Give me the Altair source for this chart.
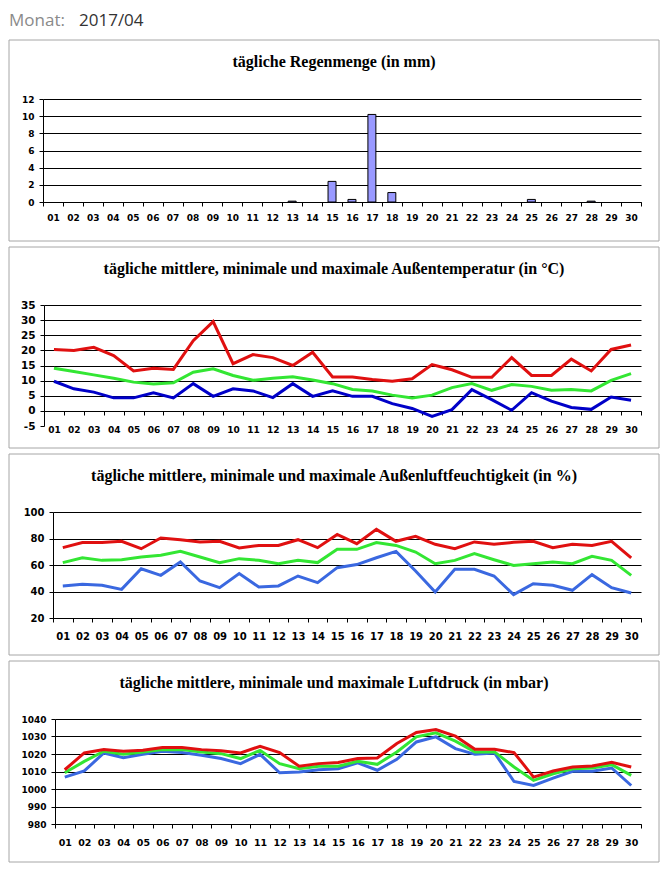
import altair as alt
import pandas as pd

# ---------------- data ----------------
days = [f"{d:02d}" for d in range(1, 31)]

rain = [0, 0, 0, 0, 0, 0, 0, 0, 0, 0, 0, 0, 0.1, 0, 2.4, 0.3, 10.2, 1.1, 0, 0,
        0, 0, 0, 0, 0.3, 0, 0, 0.1, 0, 0]

temp_max = [20.3, 20.0, 21.0, 18.3, 13.2, 14.1, 13.7, 23.2, 29.5, 15.6, 18.6, 17.6, 15.0, 19.4, 11.2,
            11.2, 10.4, 9.8, 10.6, 15.3, 13.6, 11.1, 11.1, 17.6, 11.7, 11.7, 17.1, 13.2, 20.3, 21.8]
temp_mean = [14.1, 13.0, 11.9, 10.8, 9.5, 8.9, 9.3, 12.8, 13.9, 11.7, 10.1, 10.8, 11.3, 10.2, 9.0,
             7.1, 6.6, 5.2, 4.3, 5.2, 7.7, 9.0, 6.8, 8.7, 8.1, 6.8, 7.1, 6.6, 10.1, 12.3]
temp_min = [9.8, 7.3, 6.2, 4.3, 4.3, 6.0, 4.3, 9.0, 4.8, 7.3, 6.6, 4.4, 9.0, 4.8, 6.6,
            4.8, 4.8, 2.4, 0.8, -1.8, 0.4, 7.0, 3.7, 0.2, 6.0, 3.2, 1.1, 0.5, 4.6, 3.5]

hum_max = [73.1, 76.9, 76.9, 77.9, 72.3, 80.4, 79.1, 77.4, 77.9, 72.8, 74.8, 74.8, 79.1, 73.1, 83.1,
           76.1, 86.9, 77.9, 81.6, 75.6, 72.3, 77.4, 75.6, 77.1, 77.9, 73.1, 75.6, 74.8, 77.9, 65.3]
hum_mean = [61.8, 65.5, 63.5, 64.0, 66.0, 67.3, 70.3, 66.0, 61.8, 64.8, 63.5, 61.0, 63.5, 61.8, 71.8,
            71.8, 76.9, 74.8, 69.8, 61.0, 63.5, 68.6, 64.0, 59.7, 61.0, 62.3, 61.0, 66.5, 63.5, 52.2]
hum_min = [44.2, 45.4, 44.7, 41.6, 57.2, 52.2, 62.3, 47.9, 42.9, 53.5, 43.4, 44.2, 51.7, 46.7, 58.0,
           60.3, 65.5, 70.3, 55.5, 39.6, 56.7, 56.7, 51.7, 37.6, 45.9, 44.7, 40.9, 52.7, 42.9, 38.9]

pres_max = [1011.0, 1020.6, 1022.5, 1021.6, 1022.1, 1023.7, 1023.7, 1022.5, 1021.8, 1020.6, 1024.4, 1020.8,
            1013.0, 1014.5, 1015.1, 1017.4, 1017.7, 1026.0, 1032.3, 1034.0, 1030.2, 1022.7, 1022.7, 1020.8,
            1006.8, 1010.3, 1012.6, 1013.1, 1015.2, 1012.6]
pres_mean = [1009.3, 1015.8, 1021.6, 1019.8, 1021.2, 1022.5, 1022.5, 1021.2, 1020.2, 1017.4, 1022.1, 1014.5,
             1011.6, 1013.0, 1013.0, 1015.8, 1014.1, 1021.2, 1029.8, 1032.1, 1027.3, 1021.2, 1021.2, 1012.6,
             1004.9, 1008.7, 1011.6, 1012.0, 1013.9, 1007.8]
pres_min = [1006.8, 1010.3, 1020.6, 1017.9, 1019.8, 1021.6, 1020.8, 1019.3, 1017.4, 1014.5, 1019.8, 1009.3,
            1009.7, 1011.0, 1011.6, 1014.9, 1010.7, 1017.0, 1026.9, 1029.8, 1023.1, 1019.8, 1020.6, 1004.3,
            1002.0, 1006.2, 1010.1, 1010.1, 1012.0, 1002.0]

titles = [
    "tägliche Regenmenge (in mm)",
    "tägliche mittlere, minimale und maximale Außentemperatur (in °C)",
    "tägliche mittlere, minimale und maximale Außenluftfeuchtigkeit (in %)",
    "tägliche mittlere, minimale und maximale Luftdruck (in mbar)",
]
header_label = "Monat:"
header_value = "2017/04"
rain_ticks = [0, 2, 4, 6, 8, 10, 12]
temp_ticks = [-5, 0, 5, 10, 15, 20, 25, 30, 35]
hum_ticks = [20, 40, 60, 80, 100]
pres_ticks = [980, 990, 1000, 1010, 1020, 1030, 1040]

# ---------------- styles ----------------
AX_FONT = "DejaVu Sans"
TITLE_FONT = "Liberation Serif"
RED = "#E01010"
GREEN = "#33E633"
DARKBLUE = "#0000C8"
BLUE = "#3A68E0"
FRAME = "#A6A6A6"
W = 598  # common group width; each panel's x range starts at its own offset


def frame(y1, y2):
    return alt.Chart(pd.DataFrame({"f": [0]})).mark_rect(
        filled=False, stroke=FRAME, strokeWidth=1
    ).encode(x=alt.value(-34), x2=alt.value(616), y=alt.value(y1), y2=alt.value(y2))


def title(text, y):
    return alt.Chart(pd.DataFrame({"t": [text]})).mark_text(
        font=TITLE_FONT, fontWeight="bold", fontSize=16, align="center",
        baseline="middle", color="black"
    ).encode(text="t:N", x=alt.value(291), y=alt.value(y))


def xenc(dx, size, pad, offset=0):
    return alt.X(
        "day:O",
        scale=alt.Scale(type="band", domain=days, paddingInner=0, paddingOuter=0, range=[dx, W]),
        axis=alt.Axis(title=None, labelAngle=0, tickBand="extent", labelFontSize=size,
                      labelPadding=pad, offset=offset, grid=False, labelOverlap=False),
    )


def yenc(field, domain, ticks, size, dx, grid_hide=None):
    kw = {}
    if grid_hide is not None:
        kw["gridOpacity"] = {"condition": {"test": f"datum.value === {grid_hide}", "value": 0}, "value": 1}
    return alt.Y(
        f"{field}:Q",
        scale=alt.Scale(domain=domain, nice=False, zero=False),
        axis=alt.Axis(title=None, values=ticks, grid=True, labelFontSize=size, offset=-dx,
                      labelExpr="'' + datum.value", **kw),
    )


# ---------------- panel 1: rain (+ page header) ----------------
rain_df = pd.DataFrame({"day": days, "rain": rain})
p1_bars = alt.Chart(rain_df).transform_filter("datum.rain > 0").mark_bar(
    width=alt.RelativeBandSize(band=0.4), color="#9999FF", stroke="black", strokeWidth=1
).encode(x=xenc(0, 9, 7), y=yenc("rain", [0, 12], rain_ticks, 9, 0))

hdr1 = alt.Chart(pd.DataFrame({"t": [header_label]})).mark_text(
    align="left", baseline="top", font="Open Sans", fontSize=17, color="#8A8A8A"
).encode(text="t:N", x=alt.value(-34), y=alt.value(-86))
hdr2 = alt.Chart(pd.DataFrame({"t": [header_value]})).mark_text(
    align="left", baseline="top", font="Open Sans", fontSize=17, color="#333333"
).encode(text="t:N", x=alt.value(36), y=alt.value(-86))

p1 = alt.layer(
    frame(-59, 142), title(titles[0], -37), hdr1, hdr2, p1_bars
).properties(width=W, height=103)


# ---------------- line panels ----------------
def line_panel(df, cols, colors, domain, ticks, ysize, xsize, xpad, xoffset, dx, height,
               fy, ttl_y, ttl, grid_hide=None):
    base = alt.Chart(df)
    layers = []
    for c, col in zip(cols, colors):
        layers.append(
            base.mark_line(color=col, strokeWidth=3).encode(
                x=xenc(dx, xsize, xpad, xoffset),
                y=yenc(c, domain, ticks, ysize, dx, grid_hide),
            )
        )
    return alt.layer(frame(*fy), title(ttl, ttl_y), *layers).properties(width=W, height=height)


temp_df = pd.DataFrame({"day": days, "tmax": temp_max, "tmean": temp_mean, "tmin": temp_min})
p2 = line_panel(temp_df, ["tmin", "tmean", "tmax"], [DARKBLUE, GREEN, RED], [-5, 35], temp_ticks,
                10.5, 9, 10, -15, 1, 121, (-58, 143), -36, titles[1], grid_hide=-5)

hum_df = pd.DataFrame({"day": days, "hmax": hum_max, "hmean": hum_mean, "hmin": hum_min})
p3 = line_panel(hum_df, ["hmin", "hmean", "hmax"], [BLUE, GREEN, RED], [20, 100], hum_ticks,
                10, 10, 9, 0, 10, 106, (-58, 143), -36, titles[2])

pres_df = pd.DataFrame({"day": days, "pmax": pres_max, "pmean": pres_mean, "pmin": pres_min})
p4 = line_panel(pres_df, ["pmin", "pmean", "pmax"], [BLUE, GREEN, RED], [980, 1040], pres_ticks,
                9, 9.5, 9, 0, 12, 105, (-58, 143), -36, titles[3])

chart = alt.vconcat(p1, p2, p3, p4, spacing=4).properties(
    padding={"top": 4, "left": 0, "right": 0, "bottom": 0}, background="white"
).configure_view(stroke=None).configure_axis(
    labelFont=AX_FONT, labelFontWeight="bold", labelColor="black",
    domainColor="black", tickColor="black", gridColor="black",
    domainWidth=1, tickWidth=1, gridWidth=1, tickSize=4, gridOpacity=1,
).configure_axisY(labelPadding=5)

chart.save("out.html", embed_options={"renderer": "svg", "actions": False})
